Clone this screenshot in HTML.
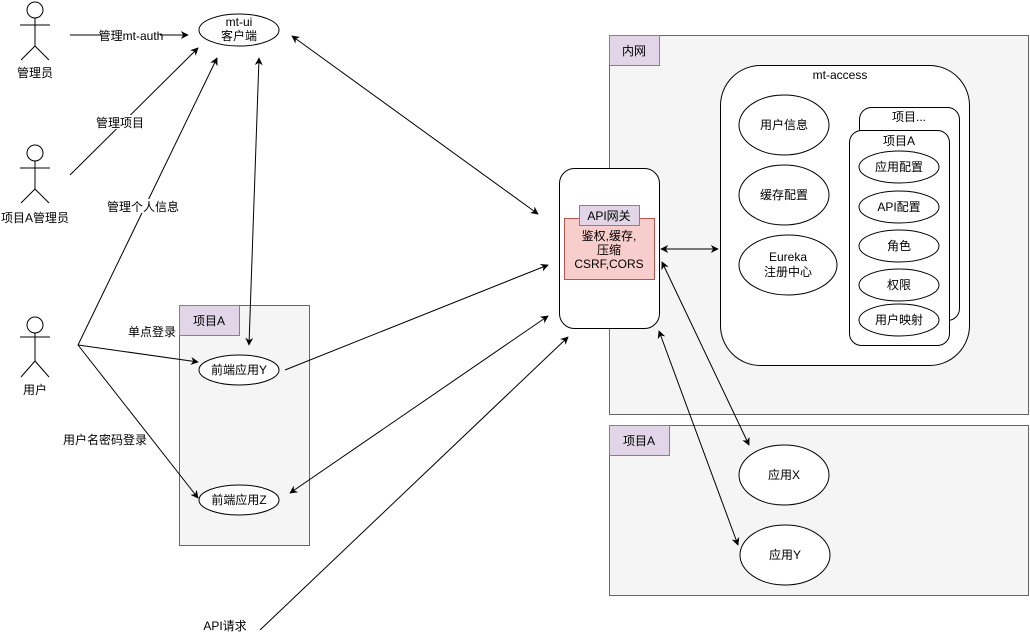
<!DOCTYPE html>
<html><head><meta charset="utf-8"><style>
html,body{margin:0;padding:0;background:#fff;}
svg{display:block;}
text{font-family:"Liberation Sans","Noto Sans CJK SC",sans-serif;font-size:12px;fill:#000;}
</style></head><body>
<svg width="1030" height="641" viewBox="0 0 1030 641" xmlns="http://www.w3.org/2000/svg">
<defs>
<marker id="a" viewBox="0 0 10 10" refX="9" refY="5" markerWidth="8" markerHeight="8" orient="auto-start-reverse" markerUnits="userSpaceOnUse"><path d="M0,0 L10,5 L0,10 L3,5 Z" fill="#000"/></marker>
</defs>
<rect width="1030" height="641" fill="#fff"/>
<!-- containers -->
<rect x="609.5" y="35.5" width="419" height="379" fill="#f5f5f5" stroke="#666"/>
<rect x="609.5" y="35.5" width="50" height="30" fill="#e1d5e7" stroke="#9673a6"/>
<text x="634" y="55" text-anchor="middle">内网</text>
<rect x="609.5" y="425.5" width="419" height="170" fill="#f5f5f5" stroke="#666"/>
<rect x="609.5" y="425.5" width="60" height="30" fill="#e1d5e7" stroke="#9673a6"/>
<text x="639" y="445" text-anchor="middle">项目A</text>
<rect x="179.5" y="305.5" width="130" height="240" fill="#f5f5f5" stroke="#666"/>
<rect x="179.5" y="305.5" width="60" height="30" fill="#e1d5e7" stroke="#9673a6"/>
<text x="209" y="325" text-anchor="middle">项目A</text>
<!-- mt-access -->
<rect x="720.5" y="65.5" width="249" height="300" rx="40" fill="#fff" stroke="#000"/>
<text x="840" y="79" text-anchor="middle">mt-access</text>
<ellipse cx="784" cy="125" rx="45" ry="30" fill="#fff" stroke="#000"/><text x="784" y="129" text-anchor="middle">用户信息</text>
<ellipse cx="784" cy="195" rx="45" ry="30" fill="#fff" stroke="#000"/><text x="784" y="199" text-anchor="middle">缓存配置</text>
<ellipse cx="788" cy="265" rx="49" ry="30" fill="#fff" stroke="#000"/><text x="788" y="261" text-anchor="middle">Eureka</text><text x="788" y="276" text-anchor="middle">注册中心</text>
<rect x="859.5" y="107.5" width="100" height="213" rx="12" fill="#fff" stroke="#000"/>
<text x="909" y="121" text-anchor="middle">项目...</text>
<rect x="849.5" y="130.5" width="100" height="215" rx="12" fill="#fff" stroke="#000"/>
<text x="899" y="145" text-anchor="middle">项目A</text>
<ellipse cx="899" cy="167" rx="40" ry="16" fill="#fff" stroke="#000"/><text x="899" y="171" text-anchor="middle">应用配置</text>
<ellipse cx="899" cy="207" rx="40" ry="16" fill="#fff" stroke="#000"/><text x="899" y="211" text-anchor="middle">API配置</text>
<ellipse cx="899" cy="246" rx="40" ry="16" fill="#fff" stroke="#000"/><text x="899" y="250" text-anchor="middle">角色</text>
<ellipse cx="899" cy="285" rx="40" ry="16" fill="#fff" stroke="#000"/><text x="899" y="289" text-anchor="middle">权限</text>
<ellipse cx="899" cy="320" rx="40" ry="16" fill="#fff" stroke="#000"/><text x="899" y="324" text-anchor="middle">用户映射</text>
<!-- gateway -->
<rect x="559.5" y="168.5" width="100" height="160" rx="15" fill="#fff" stroke="#000"/>
<rect x="564.5" y="218.5" width="90" height="61" fill="#f8cecc" stroke="#b85450"/>
<rect x="579.5" y="205.5" width="60" height="20" fill="#e1d5e7" stroke="#9673a6"/>
<text x="609" y="220" text-anchor="middle">API网关</text>
<text x="609" y="240" text-anchor="middle">鉴权,缓存,</text>
<text x="609" y="254" text-anchor="middle">压缩</text>
<text x="609" y="268" text-anchor="middle">CSRF,CORS</text>
<!-- apps -->
<ellipse cx="784" cy="475" rx="45" ry="30" fill="#fff" stroke="#000"/><text x="784" y="479" text-anchor="middle">应用X</text>
<ellipse cx="785" cy="555" rx="45" ry="30" fill="#fff" stroke="#000"/><text x="785" y="559" text-anchor="middle">应用Y</text>
<ellipse cx="239" cy="30" rx="40" ry="16" fill="#fff" stroke="#000"/><text x="239" y="26" text-anchor="middle">mt-ui</text><text x="239" y="40" text-anchor="middle">客户端</text>
<ellipse cx="239" cy="370" rx="40" ry="15" fill="#fff" stroke="#000"/><text x="239" y="374" text-anchor="middle">前端应用Y</text>
<ellipse cx="239" cy="500" rx="40" ry="15" fill="#fff" stroke="#000"/><text x="239" y="504" text-anchor="middle">前端应用Z</text>
<!-- actors -->
<g fill="none" stroke="#000">
<circle cx="35" cy="10" r="8" fill="#fff"/><path d="M35,18V46M20,25H50M35,46L21,60M35,46L49,60"/>
<circle cx="35" cy="153" r="8" fill="#fff"/><path d="M35,161V189M20,168H50M35,189L21,203M35,189L49,203"/>
<circle cx="35" cy="325" r="8" fill="#fff"/><path d="M35,333V361M20,337H50M35,361L21,377M35,361L49,377"/>
</g>
<text x="35" y="77" text-anchor="middle">管理员</text>
<text x="35" y="222" text-anchor="middle">项目A管理员</text>
<text x="35" y="394" text-anchor="middle">用户</text>
<!-- connectors -->
<g stroke="#000" fill="none" stroke-width="1">
<line x1="70" y1="35" x2="188" y2="35" marker-end="url(#a)"/>
<line x1="70" y1="175" x2="198" y2="48" marker-end="url(#a)"/>
<line x1="78" y1="345" x2="217" y2="58" marker-end="url(#a)"/>
<line x1="78" y1="345" x2="198" y2="362" marker-end="url(#a)"/>
<line x1="78" y1="345" x2="198" y2="498" marker-end="url(#a)"/>
<line x1="259" y1="58" x2="249" y2="345" marker-start="url(#a)" marker-end="url(#a)"/>
<line x1="292" y1="36" x2="538" y2="214" marker-start="url(#a)" marker-end="url(#a)"/>
<line x1="285" y1="370" x2="548" y2="265" marker-end="url(#a)"/>
<line x1="290" y1="493" x2="548" y2="316" marker-start="url(#a)" marker-end="url(#a)"/>
<line x1="260" y1="630" x2="568" y2="337" marker-end="url(#a)"/>
<line x1="661" y1="249" x2="718" y2="249" marker-start="url(#a)" marker-end="url(#a)"/>
<line x1="662" y1="262" x2="749" y2="445" marker-start="url(#a)" marker-end="url(#a)"/>
<line x1="659" y1="331" x2="738" y2="545" marker-start="url(#a)" marker-end="url(#a)"/>
</g>
<!-- labels -->
<g>
<rect x="102" y="28" width="58" height="14" fill="#fff"/><text x="131" y="40" text-anchor="middle">管理mt-auth</text>
<rect x="96" y="115" width="48" height="14" fill="#fff"/><text x="120" y="127" text-anchor="middle">管理项目</text>
<rect x="108" y="199" width="70" height="14" fill="#fff"/><text x="143" y="211" text-anchor="middle">管理个人信息</text>
<text x="152" y="336" text-anchor="middle">单点登录</text>
<text x="105" y="444" text-anchor="middle">用户名密码登录</text>
<text x="225" y="630" text-anchor="middle">API请求</text>
</g>
</svg>
</body></html>
